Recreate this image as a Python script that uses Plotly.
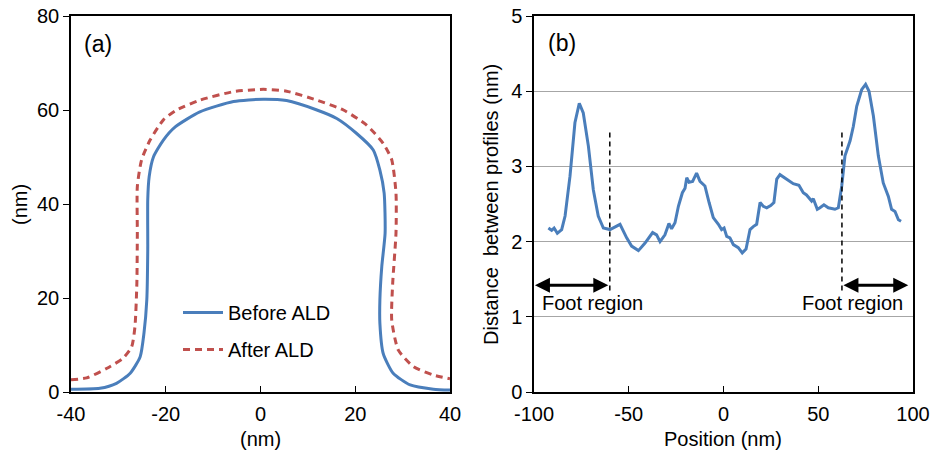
import plotly.graph_objects as go

# ---- Panel (a): profiles ----
before_x = [-40, -33.9, -30.4, -27.5, -25.4, -24.6, -24.0, -23.8, -23.8, -23.5, -22.6, -20.5, -18.0, -12.8, -5.7, 0.6, 5.5, 11.9, 16.1, 20.3, 23.8, 25.2, 26.1, 26.3, 25.6, 25.2, 25.2, 25.9, 28.0, 31.6, 36.5, 40]
before_y = [0.6, 0.8, 1.85, 4.0, 7.5, 12.5, 19.6, 30.2, 40.9, 45.8, 50.0, 53.6, 56.4, 59.6, 61.8, 62.3, 62.0, 60.0, 58.2, 55.0, 51.5, 47.2, 42.3, 33.8, 26.7, 19.6, 14.6, 8.2, 4.0, 1.5, 0.6, 0.4]

after_x = [-40, -36.7, -32.5, -29.0, -27.2, -26.5, -26.1, -26.0, -26.0, -25.1, -23.3, -20.5, -17.7, -12.8, -5.7, 0.6, 5.5, 11.9, 17.5, 22.4, 25.9, 27.7, 28.6, 28.6, 27.9, 27.7, 29.1, 32.3, 36.5, 40]
after_y = [2.6, 3.0, 5.0, 7.2, 9.6, 13.9, 23.1, 33.8, 43.7, 49.4, 53.6, 57.9, 60.0, 62.1, 63.9, 64.4, 64.0, 62.1, 60.0, 56.8, 52.9, 49.4, 42.3, 33.8, 23.1, 15.3, 8.9, 5.4, 3.6, 2.8]

# ---- Panel (b): distance between profiles ----
pos_x = [-92.4, -90.7, -89.4, -87.7, -85.4, -83.6, -81.0, -78.4, -76.1, -74.0, -71.3, -68.7, -66.1, -63.4, -59.9,
         -57.3, -54.6, -51.1, -48.5, -44.9, -41.4, -37.4, -35.3, -33.5, -30.9, -28.8, -27.4, -25.6, -23.8, -21.7,
         -20.3, -19.4, -18.2, -16.3, -14.2, -12.4, -9.8, -7.6, -5.4, -2.7, -1.0, 0.3, 1.7, 3.4, 5.2, 7.8, 9.9,
         11.9, 14.0, 15.7, 17.5, 19.3, 21.0, 22.8, 24.9, 26.6, 28.1, 29.8, 33.3, 36.8, 39.8, 42.1, 43.8, 46.5,
         47.4, 49.5, 50.9, 53.0, 55.3, 58.8, 60.6, 62.4, 64.1, 66.8, 68.5, 70.3, 72.9, 75.0, 76.8, 79.1, 81.7,
         84.3, 87.0, 88.7, 90.5, 92.3, 93.7]
dist_y = [2.18, 2.15, 2.18, 2.11, 2.16, 2.34, 2.87, 3.58, 3.84, 3.71, 3.27, 2.69, 2.34, 2.18, 2.16,
          2.20, 2.23, 2.05, 1.94, 1.88, 1.98, 2.12, 2.09, 2.00, 2.09, 2.24, 2.17, 2.25, 2.47, 2.65,
          2.71, 2.85, 2.79, 2.80, 2.91, 2.80, 2.74, 2.52, 2.32, 2.23, 2.16, 2.18, 2.07, 2.05, 1.96, 1.92, 1.85,
          1.90, 2.16, 2.20, 2.23, 2.52, 2.47, 2.45, 2.48, 2.52, 2.83, 2.89, 2.83, 2.77, 2.75, 2.65, 2.62, 2.54,
          2.57, 2.43, 2.45, 2.49, 2.45, 2.43, 2.45, 2.74, 3.14, 3.34, 3.53, 3.80, 4.02, 4.09, 4.00, 3.67, 3.14,
          2.78, 2.60, 2.43, 2.40, 2.29, 2.27]

foot_bounds = [-60, 62.5]          # dashed boundary positions
foot_arrow_ends = [-99.5, 97.5]    # outer arrow ends
foot_line_range = [1.35, 3.45]
foot_arrow_y = 1.42
foot_label_y = 1.18
foot_label_x = [-69, 68]

left_xticks = [-40, -20, 0, 20, 40]
left_xlabels = ["-40", "-20", "0", "20", "40"]
left_yticks = [0, 20, 40, 60, 80]
right_xticks = [-100, -50, 0, 50, 100]
right_xlabels = ["-100", "-50", "0", "50", "100"]
right_yticks = [0, 1, 2, 3, 4, 5]

BLUE = "#4a7ebb"
RED = "#c0504d"
FONT = "Liberation Sans, Arial, sans-serif"
FS = 20
W, H = 932, 452

fig = go.Figure()
fig.add_trace(go.Scatter(x=before_x, y=before_y, mode="lines", name="Before ALD",
                         line=dict(color=BLUE, width=3, shape="spline", smoothing=0.6),
                         xaxis="x", yaxis="y", legendgroup="a"))
fig.add_trace(go.Scatter(x=after_x, y=after_y, mode="lines", name="After ALD",
                         line=dict(color=RED, width=3, dash="7px,5px", shape="spline", smoothing=0.6),
                         xaxis="x", yaxis="y", legendgroup="b"))
fig.add_trace(go.Scatter(x=pos_x, y=dist_y, mode="lines", name="distance", showlegend=False,
                         line=dict(color=BLUE, width=3),
                         xaxis="x2", yaxis="y2"))

ydom = [60 / H, 436 / H]
axis_common = dict(showline=True, linecolor="black", linewidth=1.5, mirror=True,
                   tickfont=dict(family=FONT, size=FS, color="black"), automargin=False,
                   zeroline=False, tickcolor="black", ticklen=6)

fig.update_layout(
    width=W, height=H,
    margin=dict(l=0, r=0, t=0, b=0),
    paper_bgcolor="white", plot_bgcolor="white",
    font=dict(family=FONT, color="black"),
    xaxis=dict(domain=[71 / W, 450 / W], range=[-40, 40], tickvals=left_xticks, ticktext=left_xlabels,
               ticks="inside", showgrid=False, anchor="y", ticklabelstandoff=3, **axis_common),
    yaxis=dict(domain=ydom, range=[0, 80], tickvals=left_yticks,
               ticks="outside", showgrid=False, anchor="x", **axis_common),
    xaxis2=dict(domain=[534 / W, 913 / W], range=[-100, 100], tickvals=right_xticks, ticktext=right_xlabels,
                ticks="inside", showgrid=False, anchor="y2", ticklabelstandoff=3, **axis_common),
    yaxis2=dict(domain=ydom, range=[0, 5], tickvals=right_yticks,
                ticks="outside", showgrid=True, gridcolor="#a6a6a6", gridwidth=1.2,
                anchor="x2", **axis_common),
    legend=dict(x=178 / W, y=1 - 293 / H, xanchor="left", yanchor="top",
                bgcolor="rgba(0,0,0,0)", font=dict(family=FONT, size=FS, color="black"),
                tracegroupgap=8, itemwidth=40),
    showlegend=True,
)

def centered(**kw):
    d = dict(xanchor="center", yanchor="middle", showarrow=False)
    d.update(kw)
    return d

annotations = [
    centered(text="(a)", x=98 / W, y=1 - 44 / H, xref="paper", yref="paper", font=dict(family=FONT, size=23)),
    centered(text="(b)", x=562 / W, y=1 - 43 / H, xref="paper", yref="paper", font=dict(family=FONT, size=23)),
    centered(text="(nm)", x=20 / W, y=1 - 205 / H, xref="paper", yref="paper",
             textangle=-90, font=dict(family=FONT, size=FS)),
    centered(text="(nm)", x=260 / W, y=1 - 439 / H, xref="paper", yref="paper", font=dict(family=FONT, size=FS)),
    centered(text="Distance  between profiles (nm)", x=491 / W, y=1 - 205 / H, xref="paper", yref="paper",
             textangle=-90, font=dict(family=FONT, size=FS)),
    centered(text="Position (nm)", x=723 / W, y=1 - 439 / H, xref="paper", yref="paper",
             font=dict(family=FONT, size=FS)),
]
for bx, ex, lx in zip(foot_bounds, foot_arrow_ends, foot_label_x):
    annotations.append(dict(x=ex, y=foot_arrow_y, ax=bx, ay=foot_arrow_y, xref="x2", yref="y2",
                            axref="x2", ayref="y2", showarrow=True, arrowhead=2, arrowside="end+start",
                            arrowsize=1, arrowwidth=3, arrowcolor="black", text=""))
    annotations.append(centered(text="Foot region", x=lx, y=foot_label_y, xref="x2", yref="y2",
                                font=dict(family=FONT, size=FS)))
fig.update_layout(annotations=annotations)

for bx in foot_bounds:
    fig.add_shape(type="line", x0=bx, x1=bx, y0=foot_line_range[0], y1=foot_line_range[1],
                  xref="x2", yref="y2", line=dict(color="black", width=1.5, dash="5px,4px"))

fig.write_html("out.html")
